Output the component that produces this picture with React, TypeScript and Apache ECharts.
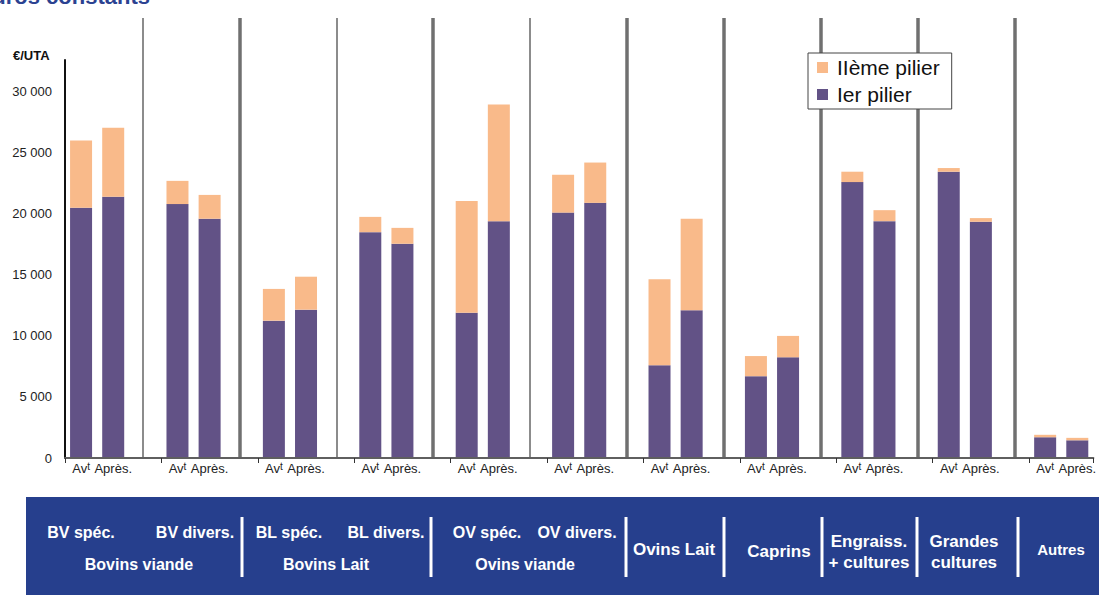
import React, { useEffect, useRef } from "react";
import * as echarts from "echarts";

// ---------- DATA ----------
const groups = [
  "BV spéc.", "BV divers.", "BL spéc.", "BL divers.", "OV spéc.", "OV divers.",
  "Ovins Lait", "Caprins", "Engraiss. + cultures", "Grandes cultures", "Autres",
];
// family each group belongs to (groups of the same family are separated by a thin line)
const groupFamily = [0, 0, 1, 1, 2, 2, 3, 4, 5, 6, 7];
const periods = ["Avt", "Après."];
const seriesNames = ["Ier pilier", "IIème pilier"];
const pilier1Avant = [20500, 20800, 11250, 18500, 11900, 20100, 7600, 6700, 22600, 23450, 1700];
const pilier1Apres = [21400, 19600, 12150, 17550, 19400, 20900, 12100, 8250, 19400, 19350, 1450];
const pilier2Avant = [5500, 1900, 2600, 1250, 9150, 3100, 7050, 1650, 850, 300, 200];
const pilier2Apres = [5650, 1950, 2700, 1300, 9550, 3300, 7500, 1750, 900, 300, 200];
const yUnit = "€/UTA";
const titleText = "euros constants";

const FONT = '"Liberation Sans", Arial, Helvetica, sans-serif';
const PURPLE = "#625286";
const ORANGE = "#F9BA8A";
const BLUE = "#263F8D";

type Slot = { key: string; kind: "avt" | "apres" | "sep"; gi: number };

export default function App() {
  const ref = useRef<HTMLDivElement>(null);

  useEffect(() => {
    if (!ref.current) return;
    const chart = echarts.init(ref.current, undefined, { renderer: "svg" });

    const slots: Slot[] = [];
    groups.forEach((g, i) => {
      slots.push({ key: g + "|" + periods[0], kind: "avt", gi: i });
      slots.push({ key: g + "|" + periods[1], kind: "apres", gi: i });
      if (i < groups.length - 1) slots.push({ key: g + "|sep", kind: "sep", gi: i });
    });
    const cats = slots.map((s) => s.key);
    const p1 = slots.map((s) =>
      s.kind === "avt" ? pilier1Avant[s.gi] : s.kind === "apres" ? pilier1Apres[s.gi] : "-"
    );
    const p2 = slots.map((s) =>
      s.kind === "avt" ? pilier2Avant[s.gi] : s.kind === "apres" ? pilier2Apres[s.gi] : "-"
    );

    const dividers = slots
      .map((s, idx) => ({ s, idx }))
      .filter((d) => d.s.kind === "sep")
      .map((d) => {
        const thin = groupFamily[d.s.gi] === groupFamily[d.s.gi + 1];
        return {
          xAxis: d.idx,
          lineStyle: thin
            ? { color: "#8c8c8c", width: 2, type: "solid" }
            : { color: "#707070", width: 3.5, type: "solid" },
        };
      });

    const boxText = (text: string, x: number, y: number, size = 16) => ({
      type: "text",
      silent: true,
      style: {
        x, y, text,
        textAlign: "center", textVerticalAlign: "middle",
        align: "center", verticalAlign: "middle",
        font: `bold ${size}px ${FONT}`,
        fill: "#ffffff",
      },
    });
    const boxSep = (x: number) => ({
      type: "line",
      silent: true,
      shape: { x1: x, y1: 517, x2: x, y2: 577 },
      style: { stroke: "#ffffff", lineWidth: 3 },
    });

    const option: any = {
      animation: false,
      textStyle: { fontFamily: FONT },
      legend: {
        data: [seriesNames[1], seriesNames[0]],
        orient: "vertical",
        left: 808,
        top: 53,
        z: 20,
        padding: [4, 12, 4, 9],
        itemGap: 6,
        itemWidth: 11,
        itemHeight: 11,
        backgroundColor: "#ffffff",
        borderColor: "#444444",
        borderWidth: 1,
        borderRadius: 0,
        selectedMode: false,
        icon: "rect",
        textStyle: { fontSize: 21, color: "#111111", fontFamily: FONT, padding: [0, 0, 0, 4] },
      },
      grid: [
        { left: 65, right: 1, top: 60, bottom: 137 },
        { left: 62, right: 4, top: 18, bottom: 137 },
      ],
      xAxis: [
        {
          type: "category",
          gridIndex: 0,
          data: cats,
          boundaryGap: true,
          axisLine: { show: true, lineStyle: { color: "#5f5f5f", width: 2 } },
          axisTick: {
            show: true,
            interval: (index: number) => index % 3 === 0,
            length: 5,
            lineStyle: { color: "#333333", width: 1 },
          },
          axisLabel: {
            interval: 0,
            margin: 3,
            color: "#222222",
            fontSize: 13,
            formatter: (_v: string, idx: number) => {
              const s = slots[idx];
              if (!s || s.kind === "sep") return "";
              if (s.kind === "avt") return "{n|Av}{s|t}";
              return "{n|" + periods[1] + "}";
            },
            rich: {
              n: { fontSize: 13, color: "#222222", fontFamily: FONT, lineHeight: 15 },
              s: { fontSize: 10, color: "#222222", fontFamily: FONT, verticalAlign: "top", lineHeight: 15 },
            },
          },
          splitLine: { show: false },
          z: 5,
        },
        {
          type: "category",
          gridIndex: 1,
          data: cats,
          boundaryGap: true,
          show: false,
        },
      ],
      yAxis: [
        {
          type: "value",
          gridIndex: 0,
          min: 0,
          max: 32600,
          interval: 5000,
          axisLine: { show: true, lineStyle: { color: "#111111", width: 2 } },
          axisTick: { show: false },
          splitLine: { show: false },
          axisLabel: {
            showMaxLabel: false,
            margin: 13,
            color: "#222222",
            fontSize: 13,
            formatter: (v: number) => String(v).replace(/\B(?=(\d{3})+(?!\d))/g, " "),
          },
        },
        { type: "value", gridIndex: 1, min: 0, max: 1, show: false },
      ],
      series: [
        {
          name: seriesNames[0],
          type: "bar",
          stack: "total",
          xAxisIndex: 0,
          yAxisIndex: 0,
          barWidth: 22,
          itemStyle: { color: PURPLE },
          data: p1,
        },
        {
          name: seriesNames[1],
          type: "bar",
          stack: "total",
          xAxisIndex: 0,
          yAxisIndex: 0,
          barWidth: 22,
          itemStyle: { color: ORANGE },
          data: p2,
        },
        {
          name: "dividers",
          type: "line",
          xAxisIndex: 1,
          yAxisIndex: 1,
          data: [],
          silent: true,
          z: 1,
          markLine: {
            z: 1,
            silent: true,
            symbol: "none",
            label: { show: false },
            data: dividers,
          },
        },
      ],
      graphic: [
        {
          type: "text",
          silent: true,
          style: {
            x: 150, y: 7, text: titleText,
            textAlign: "right", textVerticalAlign: "bottom",
            align: "right", verticalAlign: "bottom",
            font: `bold 22px ${FONT}`, fill: "#2B4291",
          },
        },
        {
          type: "text",
          silent: true,
          style: {
            x: 13, y: 55, text: yUnit,
            textAlign: "left", textVerticalAlign: "middle",
            align: "left", verticalAlign: "middle",
            font: `bold 13px ${FONT}`, fill: "#111111",
          },
        },
        {
          type: "rect",
          silent: true,
          shape: { x: 26, y: 497, width: 1073, height: 98 },
          style: { fill: BLUE },
        },
        boxSep(242), boxSep(431), boxSep(626), boxSep(724), boxSep(822), boxSep(917), boxSep(1018),
        boxText(groups[0], 81, 532),
        boxText(groups[1], 195, 532),
        boxText("Bovins viande", 139, 564),
        boxText(groups[2], 289, 532),
        boxText(groups[3], 386, 532),
        boxText("Bovins Lait", 326, 564),
        boxText(groups[4], 487, 532),
        boxText(groups[5], 577, 532),
        boxText("Ovins viande", 525, 564),
        boxText(groups[6], 674, 549, 17),
        boxText(groups[7], 779, 551, 17),
        boxText("Engraiss.", 869, 541, 17),
        boxText("+ cultures", 869, 562, 17),
        boxText("Grandes", 964, 541, 17),
        boxText("cultures", 964, 562, 17),
        boxText(groups[10], 1061, 549, 15),
      ],
    };

    chart.setOption(option);
    return () => chart.dispose();
  }, []);

  return (
    <div
      ref={ref}
      style={{ position: "absolute", left: 0, top: 0, width: 1099, height: 595, background: "#ffffff" }}
    />
  );
}
